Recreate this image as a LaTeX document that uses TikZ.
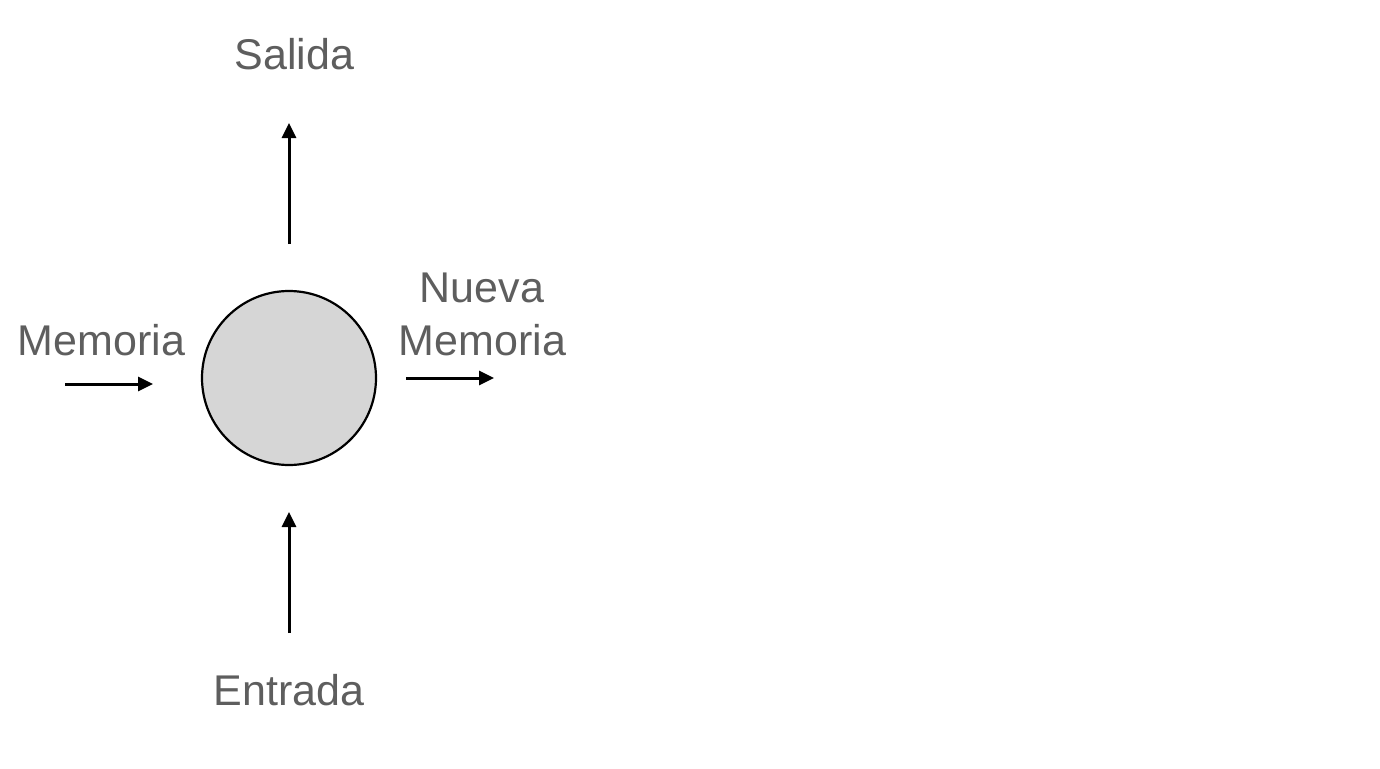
\documentclass[tikz,border=0pt]{standalone}
\usepackage{fontspec}
\setmainfont{Liberation Sans}
\usetikzlibrary{arrows.meta}
\definecolor{txt}{HTML}{5E5E5E}
\definecolor{cellfill}{HTML}{D6D6D6}
\begin{document}
\begin{tikzpicture}[x=1pt,y=-1pt,
  lbl/.style={text=txt,font=\fontsize{43}{46}\selectfont,anchor=base,inner sep=0pt},
  flow/.style={line width=3pt,-{Triangle[length=15pt,width=14pt]}},
  cell/.style={circle,draw=black,line width=2.2pt,fill=cellfill,minimum size=174pt,inner sep=0pt}]
\useasboundingbox (0,0) rectangle (1380,768);
\node[cell] (c) at (289,378) {};
\node[lbl] (sal) at (294.5,70) {Salida};
\node[lbl] (mem) at (101.5,355) {Memoria};
\node[lbl] (nue) at (482,302) {Nueva};
\node[lbl] (nmem) at (482.5,355) {Memoria};
\node[lbl] (ent) at (289,705) {Entrada};
\coordinate (upA) at (289,244);
\coordinate (upB) at (289,123);
\coordinate (dnA) at (289,633);
\coordinate (dnB) at (289,512);
\coordinate (lA) at (65,384);
\coordinate (lB) at (153,384);
\coordinate (rA) at (406,378);
\coordinate (rB) at (494,378);
\draw[flow] (upA) -- (upB);
\draw[flow] (dnA) -- (dnB);
\draw[flow] (lA) -- (lB);
\draw[flow] (rA) -- (rB);
\end{tikzpicture}
\end{document}
